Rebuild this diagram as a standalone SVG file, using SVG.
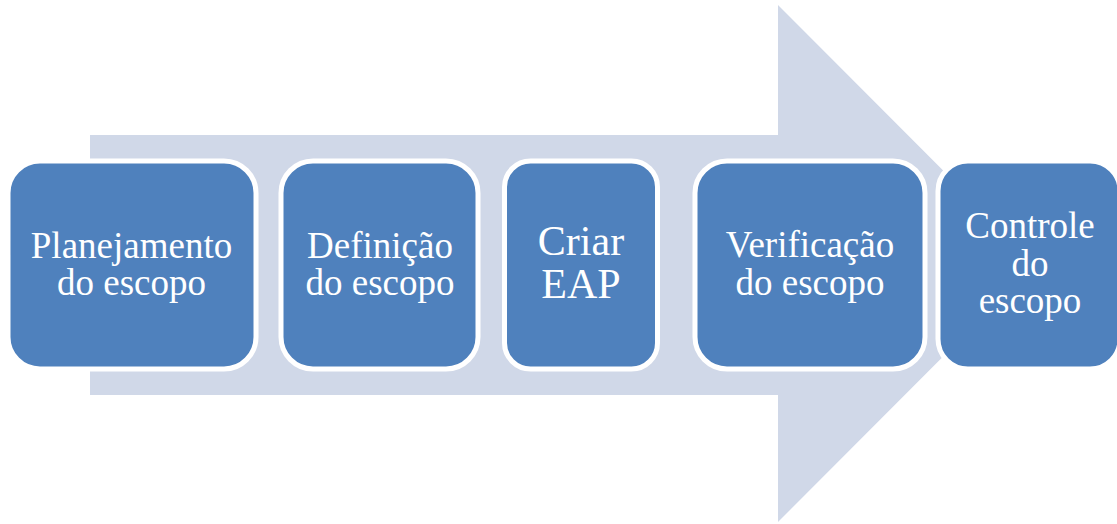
<svg xmlns="http://www.w3.org/2000/svg" width="1117" height="524" viewBox="0 0 1117 524">
  <style>
    .step { fill: #4f81bd; stroke: #ffffff; stroke-width: 5; }
    .label { fill: #ffffff; font-family: "Times New Roman", Times, "Liberation Serif", "Noto Serif", "DejaVu Serif", serif; font-size: 37px; text-anchor: middle; }
    .big { font-size: 42px; }
    .flow { fill: #d0d8e8; }
  </style>
  <rect width="1117" height="524" fill="#ffffff"/>
  <!-- background process arrow -->
  <g id="connectors">
    <path class="flow" d="M90,135 H778 V5 L1036,263.5 L778,522 V395 H90 Z"/>
  </g>
  <g id="planejamento">
    <rect class="step" x="8" y="161" width="248" height="208" rx="32"/>
    <text class="label" x="131.5" y="258">Planejamento</text>
    <text class="label" x="131.5" y="295">do escopo</text>
  </g>
  <g id="definicao">
    <rect class="step" x="281" y="161" width="197" height="208" rx="32"/>
    <text class="label" x="380" y="258">Definição</text>
    <text class="label" x="380" y="295">do escopo</text>
  </g>
  <g id="criar-eap">
    <rect class="step" x="504.5" y="161" width="153" height="208" rx="26"/>
    <text class="label big" x="581" y="255">Criar</text>
    <text class="label big" x="581" y="298">EAP</text>
  </g>
  <g id="verificacao">
    <rect class="step" x="695" y="161" width="230" height="208" rx="32"/>
    <text class="label" x="810" y="257">Verificação</text>
    <text class="label" x="810" y="295">do escopo</text>
  </g>
  <g id="controle">
    <rect class="step" x="938" y="161" width="182" height="208" rx="30"/>
    <text class="label" x="1030" y="238">Controle</text>
    <text class="label" x="1030" y="276">do</text>
    <text class="label" x="1030" y="313">escopo</text>
  </g>
</svg>
